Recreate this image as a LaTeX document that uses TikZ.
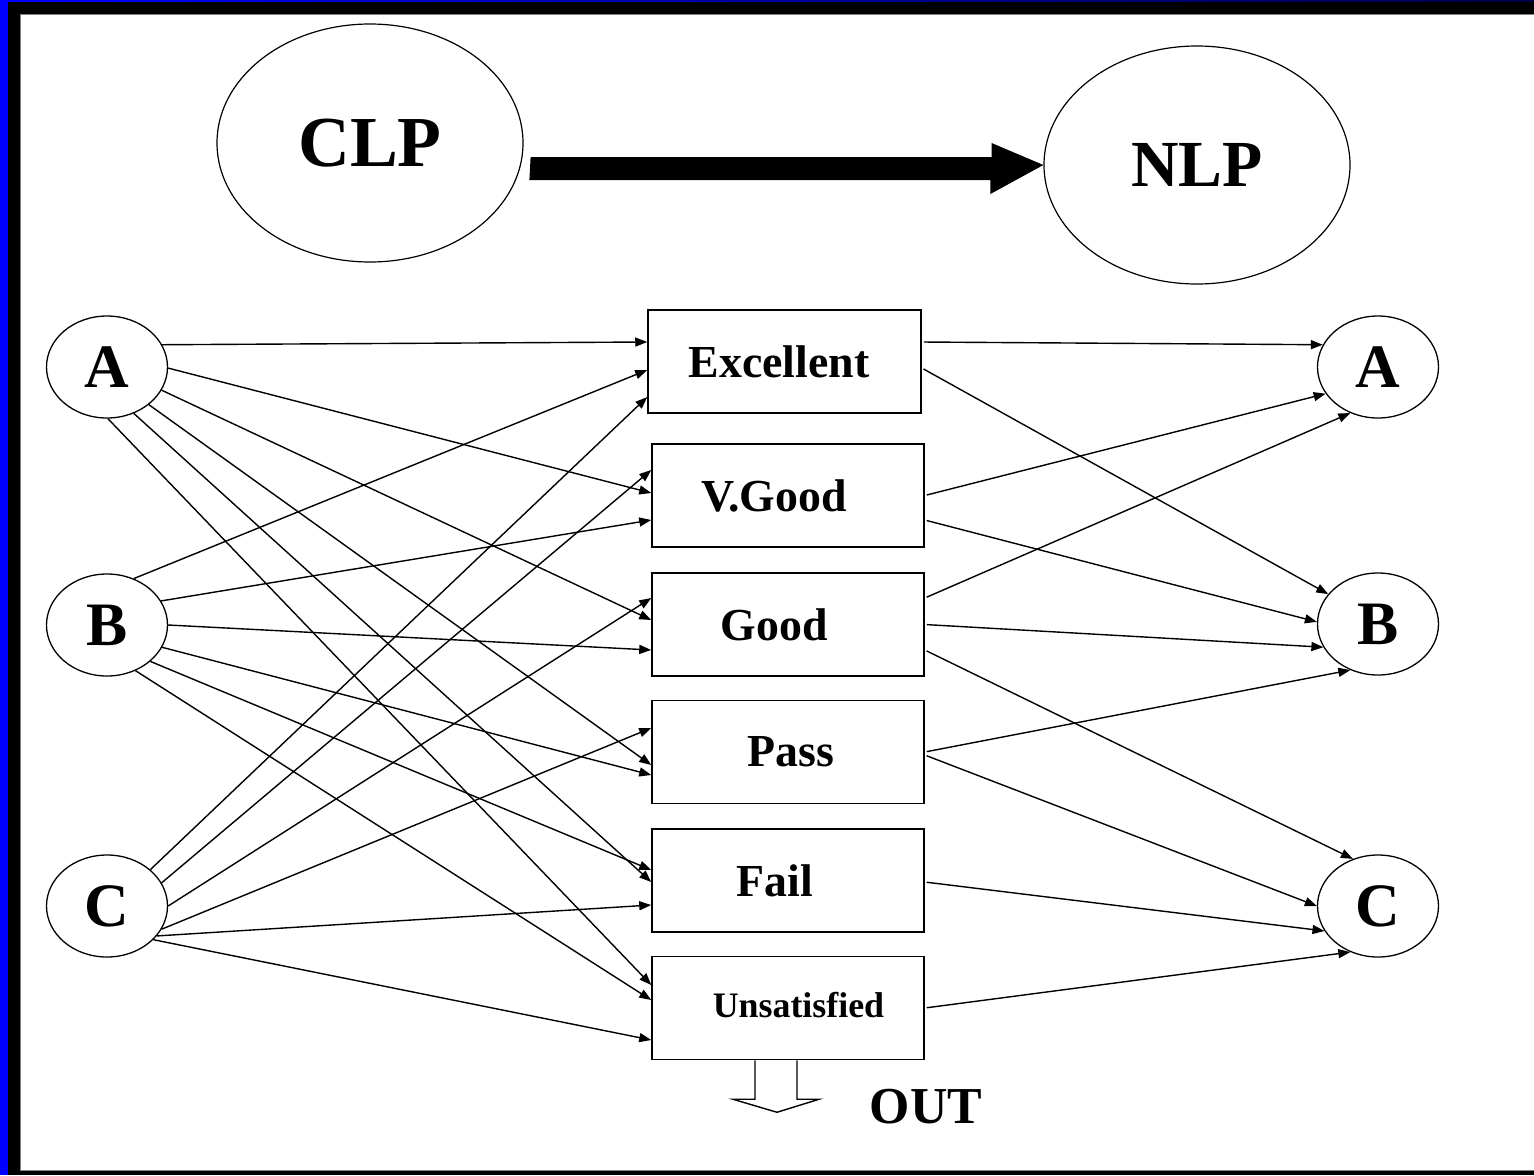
\documentclass[tikz,border=0pt]{standalone}
\usepackage{fontspec}
\setmainfont{Liberation Serif}
\usetikzlibrary{shapes.geometric, arrows.meta}
\tikzset{bigell/.style={ellipse, draw, line width=1.2bp, minimum width=306bp, minimum height=238bp, inner sep=0pt}}
\tikzset{grp/.style={ellipse, draw, line width=1.3bp, minimum width=121bp, minimum height=102bp, inner sep=0pt, font=\fontsize{62}{62}\selectfont\bfseries}}
\tikzset{gradebox/.style={draw, line width=1.5bp, minimum width=272bp, minimum height=103bp, inner sep=0pt, font=\fontsize{46}{46}\selectfont\bfseries}}
\tikzset{arr/.style={draw, -{Triangle[length=12bp,width=9bp]}, line width=1.4bp}}
\tikzset{arr2/.style={arr, shorten <=2bp}}
\definecolor{navyband}{RGB}{0,0,70}

\begin{document}
\begin{tikzpicture}[x=1bp, y=-1bp]
		\useasboundingbox (0,0) rectangle (1534,1175);
		% frame
		\fill[white] (0,0) rectangle (1534,1175);
		\fill[left color=blue, right color=navyband] (0,0) rectangle (1534,14);
		\fill[blue] (0,0) rectangle (8,1175);
		\fill[black] (8,2) rectangle (1534,14);
		\fill[black] (8,2) rectangle (20,1175);
		\fill[black] (8,1170) rectangle (1534,1175);
		\draw[gray, line width=1bp] (1534,14) -- (20,14) -- (20,1170) -- (1534,1170);

		\node[bigell, font=\fontsize{72}{72}\selectfont\bfseries] (clp) at (370,143) {CLP};
		\node[bigell, font=\fontsize{66}{66}\selectfont\bfseries] (nlp) at (1197,165) {NLP};
		\fill ([yshift=-14bp]clp.east) ++(7,0) -- ++(461,0) -- ++(0,-14) -- (nlp.west) -- ++(-53,29) -- ++(0,-14) -- ++(-461,0) -- cycle;

		\node[grp] (la) at (107,367) {A};
		\node[grp] (lb) at (107,625) {B};
		\node[grp] (lc) at (107,906) {C};
		\node[grp] (ra) at (1378,367) {A};
		\node[grp] (rb) at (1378,624) {B};
		\node[grp] (rc) at (1378,906) {C};

		\node[gradebox, minimum width=273bp] (exc) at (784.5,361.5) {\hspace*{-11bp}\raisebox{-4bp}{Excellent}};
		\node[gradebox] (vg) at (788,495.5) {\hspace*{-28bp}V.Good};
		\node[gradebox] (good) at (788,624.5) {\hspace*{-28bp}Good};
		\node[gradebox] (pass) at (788,752) {\hspace*{6bp}Pass};
		\node[gradebox] (fail) at (788,880.5) {\hspace*{-26bp}Fail};
		\node[gradebox, font=\fontsize{36}{36}\selectfont\bfseries] (unsat) at (788,1008) {\hspace*{21bp}\raisebox{6bp}{Unsatisfied}};

		% CLP side
		\draw[arr] (la.22) -- ([yshift=19.5bp]exc.west);
		\draw[arr] (la.-1) -- ([yshift=2.5bp]vg.west);
		\draw[arr] (la.-23) -- ([yshift=4.5bp]good.west);
		\draw[arr] (la.-42) -- ([yshift=-13bp]pass.west);
		\draw[arr] (la.-60) -- ([yshift=-1.5bp]fail.west);
		\draw[arr] (la.-89) -- ([yshift=23bp]unsat.west);

		\draw[arr] (lb.60) -- ([yshift=-8.5bp]exc.west);
		\draw[arr] (lb.24) -- ([yshift=-24.5bp]vg.west);
		\draw[arr] (lb.0) -- ([yshift=-25.5bp]good.west);
		\draw[arr] (lb.-22) -- ([yshift=-23bp]pass.west);
		\draw[arr] (lb.-40) -- ([yshift=10.5bp]fail.west);
		\draw[arr] (lb.-58) -- ([yshift=8bp]unsat.west);

		\draw[arr] (lc.40) -- ([yshift=-35.5bp]exc.west);
		\draw[arr] (lc.23) -- ([yshift=25.5bp]vg.west);
		\draw[arr] (lc.0) -- ([yshift=26.5bp]good.west);
		\draw[arr] (lc.-23) -- ([yshift=24bp]pass.west);
		\draw[arr] (lc.-31) -- ([yshift=-24.5bp]fail.west);
		\draw[arr] (lc.-36) -- ([yshift=-32bp]unsat.west);

		% NLP side
		\draw[arr2] ([yshift=19.5bp]exc.east) -- (ra.158);
		\draw[arr2] ([yshift=-6.5bp]exc.east) -- (rb.149);
		\draw[arr2] (vg.east) -- (ra.207);
		\draw[arr2] ([yshift=-24.5bp]vg.east) -- (rb.178);
		\draw[arr2] ([yshift=26.5bp]good.east) -- (ra.239);
		\draw[arr2] (good.east) -- (rb.203);
		\draw[arr2] ([yshift=-25.5bp]good.east) -- (rc.118);
		\draw[arr2] (pass.east) -- (rb.239);
		\draw[arr2] ([yshift=-3bp]pass.east) -- (rc.180);
		\draw[arr2] ([yshift=-1.5bp]fail.east) -- (rc.205);
		\draw[arr2] (unsat.east) -- (rc.239);

		% out
		\draw[line width=1.4bp, line join=miter] ([xshift=-33bp]unsat.south) -- ++(0,39) -- ++(-22,0) -- ++(44,13) -- ++(42,-13) -- ++(-22,0) -- ++(0,-39);
		\node[font=\fontsize{52}{52}\selectfont\bfseries] (out) at (926,1107) {OUT};
	\end{tikzpicture}
\end{document}
